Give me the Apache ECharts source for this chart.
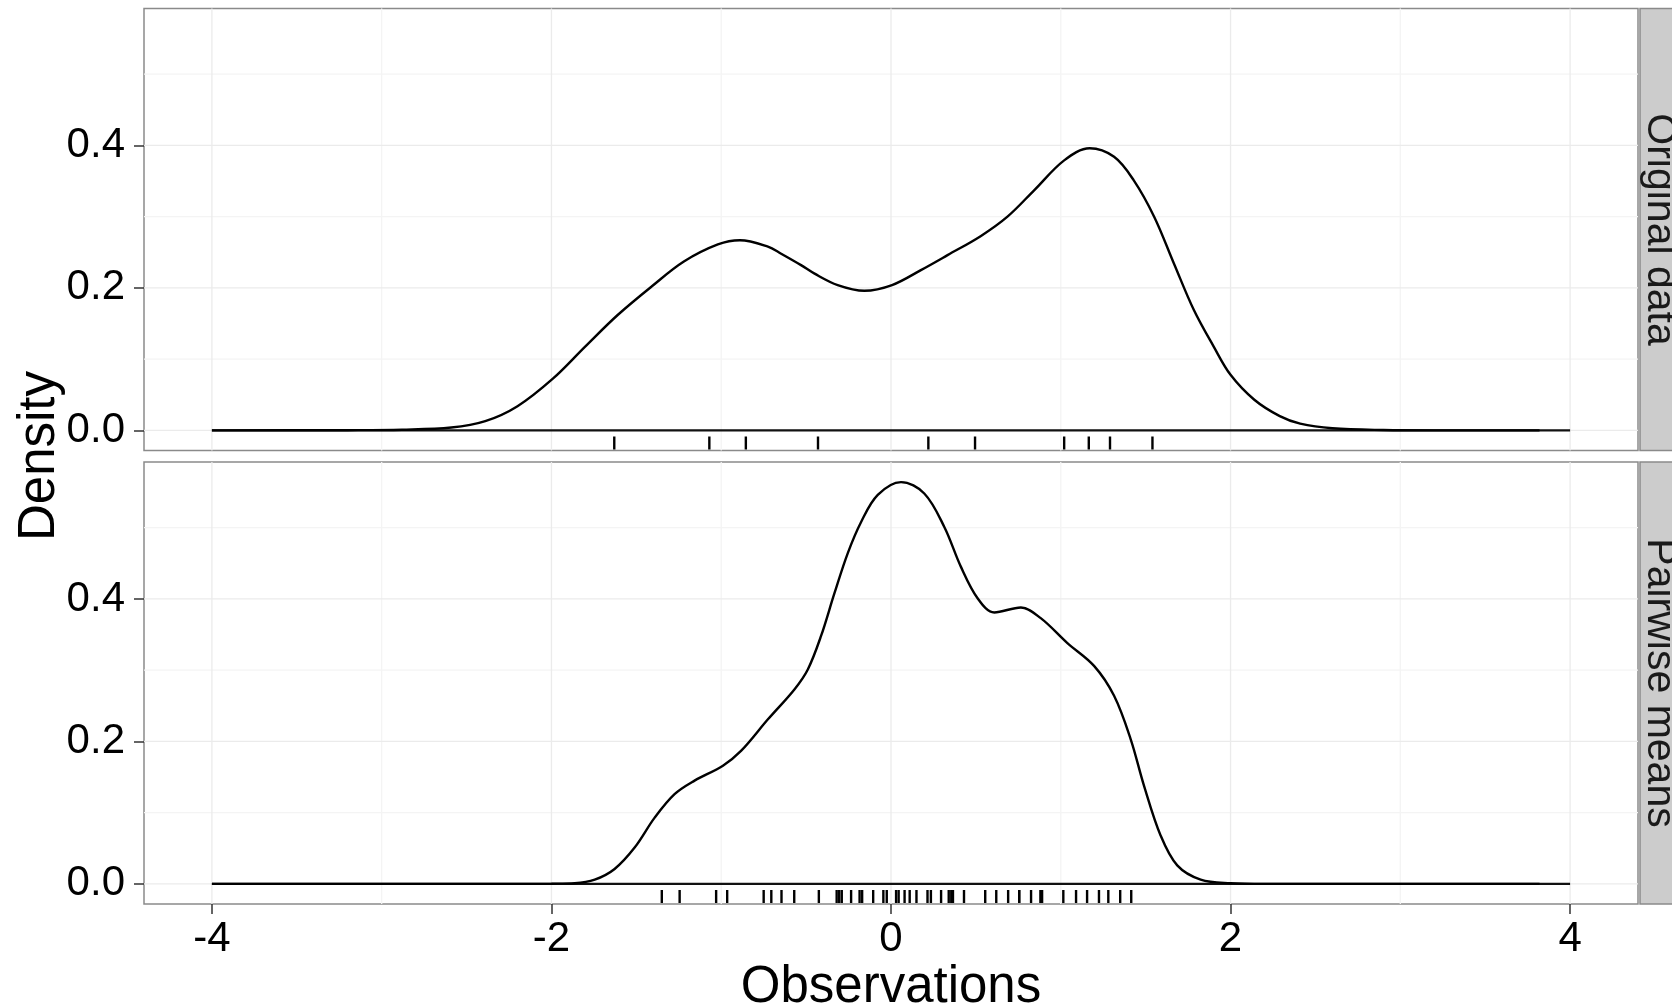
<!DOCTYPE html>
<html>
<head>
<meta charset="utf-8">
<title>Density</title>
<script src="https://cdn.jsdelivr.net/npm/echarts@6/dist/echarts.min.js"></script>
<style>
  html, body { margin: 0; padding: 0; background: #fff; }
  #chart { width: 1672px; height: 1008px; }
</style>
</head>
<body>
<div id="chart"></div>
<script>
// panel names (facet strips)
const panels = ['Original data', 'Pairwise means']

// density of the original data
const origX = [-4.0, -3.2, -2.88, -2.59, -2.39, -2.2, -1.99, -1.8, -1.61, -1.41, -1.22, -1.02, -0.89, -0.725, -0.647, -0.53, -0.45, -0.314, -0.157, 0.006, 0.176, 0.333, 0.53, 0.686, 0.843, 1.02, 1.17, 1.314, 1.43, 1.55, 1.667, 1.784, 1.9, 2.0, 2.14, 2.29, 2.41, 2.6, 2.9, 3.2, 3.82]
const origY = [0, 0.0003, 0.001, 0.004, 0.013, 0.034, 0.073, 0.118, 0.162, 0.202, 0.237, 0.261, 0.267, 0.258, 0.248, 0.232, 0.220, 0.204, 0.196, 0.204, 0.225, 0.246, 0.273, 0.300, 0.337, 0.379, 0.396, 0.384, 0.351, 0.300, 0.234, 0.169, 0.118, 0.078, 0.043, 0.020, 0.0095, 0.003, 0.0005, 0, 0]

// density of the pairwise means
const pairX = [-4.0, -2.2, -2.0, -1.863, -1.745, -1.628, -1.51, -1.392, -1.275, -1.157, -0.99, -0.882, -0.725, -0.569, -0.49, -0.412, -0.333, -0.255, -0.176, -0.078, 0.059, 0.196, 0.314, 0.412, 0.51, 0.608, 0.765, 0.882, 1.039, 1.196, 1.314, 1.412, 1.49, 1.588, 1.686, 1.824, 2.0, 2.2, 3.82]
const pairY = [0, 0, 0.0003, 0.001, 0.006, 0.021, 0.051, 0.093, 0.126, 0.145, 0.166, 0.187, 0.231, 0.273, 0.301, 0.348, 0.408, 0.464, 0.508, 0.546, 0.564, 0.548, 0.501, 0.445, 0.401, 0.381, 0.388, 0.373, 0.338, 0.306, 0.264, 0.203, 0.138, 0.068, 0.026, 0.006, 0.001, 0, 0]

// rug marks
const rugOrig = [-1.63, -1.07, -0.855, -0.43, 0.22, 0.495, 1.02, 1.165, 1.29, 1.54]
const rugPair = [-1.35, -1.245, -1.03, -0.965, -0.75, -0.705, -0.645, -0.57, -0.425, -0.32, -0.305, -0.29, -0.235, -0.185, -0.17, -0.105, -0.045, -0.025, 0.03, 0.045, 0.08, 0.11, 0.15, 0.215, 0.235, 0.295, 0.34, 0.355, 0.365, 0.43, 0.555, 0.62, 0.69, 0.755, 0.755, 0.825, 0.88, 0.89, 1.015, 1.09, 1.155, 1.225, 1.28, 1.35, 1.415]

// axis breaks
const xTicks = [-4, -2, 0, 2, 4]
const xMinor = [-3, -1, 1, 3]
const yTicks = [0, 0.2, 0.4]
const yMinor = [0.1, 0.3, 0.5]

const xMin = -4.4, xMax = 4.4
const yMin = -0.0282, yMax = 0.5922
const FONT = '"Liberation Sans", Arial, Helvetica, sans-serif'

const gridTop = [8.5, 462]
const gridH = 442
const gridLeft = 144
const gridW = 1494

const chart = echarts.init(document.getElementById('chart'))

function zip(xs, ys) {
  return xs.map((x, i) => [x, ys[i]])
}

// panel grid lines: [value, horizontal?, major?]
function gridLines(idx) {
  const rows = [].concat(
    xMinor.map(v => [v, 0, 0]),
    yMinor.map(v => [v, 1, 0]),
    xTicks.map(v => [v, 0, 1]),
    yTicks.map(v => [v, 1, 1])
  )
  return {
    type: 'custom',
    xAxisIndex: idx,
    yAxisIndex: idx,
    z: 1,
    silent: true,
    clip: false,
    data: rows,
    encode: { x: [], y: [] },
    renderItem: function (params, api) {
      const cs = params.coordSys
      const v = api.value(0)
      const color = api.value(2) ? '#ebebeb' : '#f4f4f4'
      let shape
      if (api.value(1)) {
        const y = api.coord([0, v])[1]
        shape = { x1: cs.x, y1: y, x2: cs.x + cs.width, y2: y }
      } else {
        const x = api.coord([v, 0])[0]
        shape = { x1: x, y1: cs.y, x2: x, y2: cs.y + cs.height }
      }
      return { type: 'line', shape: shape, style: { stroke: color, lineWidth: 1.3 } }
    }
  }
}

function rug(idx, values) {
  return {
    type: 'custom',
    xAxisIndex: idx,
    yAxisIndex: idx,
    z: 4,
    silent: true,
    data: values.map(v => [v, 0]),
    renderItem: function (params, api) {
      const p = api.coord([api.value(0), yMin])
      return {
        type: 'line',
        shape: { x1: p[0], y1: p[1] - 1, x2: p[0], y2: p[1] - 14 },
        style: { stroke: '#000', lineWidth: 2.4 }
      }
    }
  }
}

function densityLine(idx, xs, ys) {
  return {
    type: 'line',
    xAxisIndex: idx,
    yAxisIndex: idx,
    data: zip(xs, ys),
    smooth: 0.35,
    showSymbol: false,
    z: 5,
    lineStyle: { color: '#000', width: 2.4 },
    animation: false
  }
}

function baseline(idx) {
  return {
    type: 'line',
    xAxisIndex: idx,
    yAxisIndex: idx,
    data: [[-4, 0], [4, 0]],
    showSymbol: false,
    z: 3,
    lineStyle: { color: '#111', width: 2.2 },
    animation: false
  }
}

const option = {
  backgroundColor: '#fff',
  animation: false,
  grid: gridTop.map(t => ({
    left: gridLeft,
    top: t,
    width: gridW,
    height: gridH,
    outerBoundsMode: 'none',
    show: true,
    backgroundColor: '#fff',
    borderColor: '#8a8a8a',
    borderWidth: 1.5
  })),
  xAxis: [0, 1].map(i => ({
    type: 'value',
    gridIndex: i,
    min: xMin,
    max: xMax,
    axisLine: { show: false, onZero: false },
    splitLine: { show: false },
    axisTick: {
      show: i === 1,
      customValues: xTicks,
      length: 10,
      lineStyle: { color: '#333', width: 1.5 }
    },
    axisLabel: {
      show: i === 1,
      customValues: xTicks,
      margin: 14,
      color: '#000',
      fontSize: 42,
      fontFamily: FONT,
      formatter: v => String(v)
    },
    name: i === 1 ? 'Observations' : '',
    nameLocation: 'middle',
    nameGap: 58,
    nameTextStyle: { color: '#000', fontSize: 51, fontFamily: FONT }
  })),
  yAxis: [0, 1].map(i => ({
    type: 'value',
    gridIndex: i,
    min: yMin,
    max: yMax,
    axisLine: { show: false, onZero: false },
    splitLine: { show: false },
    axisTick: {
      show: true,
      customValues: yTicks,
      length: 10,
      lineStyle: { color: '#333', width: 1.5 }
    },
    axisLabel: {
      customValues: yTicks,
      margin: 19,
      color: '#000',
      fontSize: 42,
      fontFamily: FONT,
      formatter: v => v.toFixed(1)
    }
  })),
  graphic: [
    // facet strips
    ...gridTop.map(t => ({
      type: 'rect',
      shape: { x: 1640, y: t, width: 60, height: gridH },
      style: { fill: '#cccccc', stroke: '#8a8a8a', lineWidth: 1.5 },
      z: 10
    })),
    ...gridTop.map((t, i) => ({
      type: 'text',
      x: 1659,
      y: t + gridH / 2,
      rotation: -Math.PI / 2,
      style: {
        text: panels[i],
        font: '41px ' + FONT,
        fill: '#1a1a1a',
        align: 'center',
        verticalAlign: 'middle'
      },
      z: 11
    })),
    {
      type: 'text',
      x: 40,
      y: 456,
      rotation: Math.PI / 2,
      style: {
        text: 'Density',
        font: '51px ' + FONT,
        fill: '#000',
        align: 'center',
        verticalAlign: 'middle'
      },
      z: 11
    }
  ],
  series: [
    gridLines(0),
    gridLines(1),
    baseline(0),
    baseline(1),
    densityLine(0, origX, origY),
    densityLine(1, pairX, pairY),
    rug(0, rugOrig),
    rug(1, rugPair)
  ]
}

chart.setOption(option)
</script>
</body>
</html>
